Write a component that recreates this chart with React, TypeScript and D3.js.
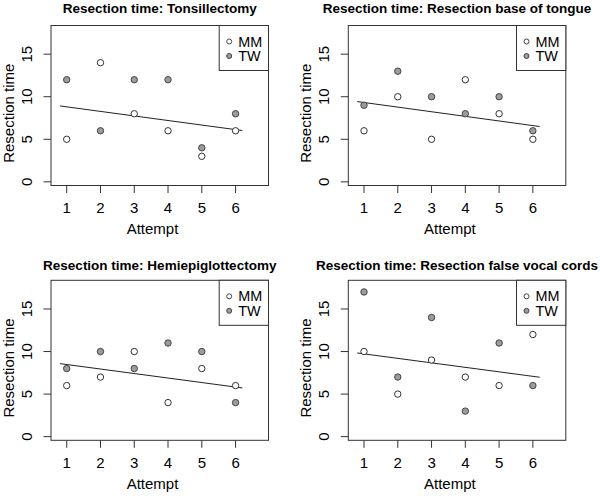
import React from "react";
import * as d3 from "d3";

const titles = [
  "Resection time: Tonsillectomy",
  "Resection time: Resection base of tongue",
  "Resection time: Hemiepiglottectomy",
  "Resection time: Resection false vocal cords",
];
const attempts = [1, 2, 3, 4, 5, 6];
const mmTimes = [
  [5, 14, 8, 6, 3, 6],
  [6, 10, 5, 12, 8, 5],
  [6, 7, 10, 4, 8, 6],
  [10, 5, 9, 7, 6, 12],
];
const twTimes = [
  [12, 6, 12, 12, 4, 8],
  [9, 13, 10, 8, 10, 6],
  [8, 10, 8, 11, 10, 4],
  [17, 7, 14, 3, 11, 6],
];
const fitX = [0.8, 6.2];
const fitStart = [8.92, 9.43, 8.58, 9.83];
const fitEnd = [6.03, 6.5, 5.72, 6.98];
const yTicks = [0, 5, 10, 15];
const seriesNames = ["MM", "TW"];

const colLefts = [51, 348.3];
const rowTops = [25.5, 280.3];
const boxW = 217.5;
const boxH = 160;
const titleOffsets = [-12.8, -10];
const FONT = "Liberation Sans, Arial, Helvetica, sans-serif";
const GREY = "#9c9c9c";

function Panel({ idx }: { idx: number }) {
  const col = idx % 2;
  const row = Math.floor(idx / 2);
  const left = colLefts[col];
  const top = rowTops[row];
  const right = left + boxW;
  const bottom = top + boxH;
  const x = d3.scaleLinear().domain([0.535, 6.975]).range([left, right]);
  const y = d3.scaleLinear().domain([-0.43, 18.37]).range([bottom, top]);
  const lineGen = d3
    .line<[number, number]>()
    .x((d) => x(d[0]))
    .y((d) => y(d[1]));
  const fitPts: [number, number][] = [
    [fitX[0], fitStart[idx]],
    [fitX[1], fitEnd[idx]],
  ];
  const legL = right - 49.3;
  const yLabX = left - 37.4;
  const yLabY = (top + bottom) / 2 + 7.7;
  return (
    <g>
      <text
        x={(left + right) / 2}
        y={top + titleOffsets[row]}
        textAnchor="middle"
        fontFamily={FONT}
        fontWeight="bold"
        fontSize={13.5}
        fill="#000"
      >
        {titles[idx]}
      </text>
      <rect x={left} y={top} width={boxW} height={boxH} fill="none" stroke="#333" strokeWidth={1} />
      {attempts.map((a) => (
        <g key={"xt" + a}>
          <line x1={x(a)} x2={x(a)} y1={bottom} y2={bottom + 7.5} stroke="#333" />
          <text x={x(a)} y={bottom + 27.3} textAnchor="middle" fontFamily={FONT} fontSize={15} fill="#000">
            {a}
          </text>
        </g>
      ))}
      {yTicks.map((t) => (
        <g key={"yt" + t}>
          <line x1={left - 7.5} x2={left} y1={y(t)} y2={y(t)} stroke="#333" />
          <text
            transform={`translate(${left - 19},${y(t)}) rotate(-90)`}
            textAnchor="middle"
            fontFamily={FONT}
            fontSize={15}
            fill="#000"
          >
            {t}
          </text>
        </g>
      ))}
      <text
        x={left + 101.5}
        y={bottom + 48.8}
        textAnchor="middle"
        fontFamily={FONT}
        fontSize={15}
        fill="#000"
      >
        Attempt
      </text>
      <text
        transform={`translate(${yLabX},${yLabY}) rotate(-90)`}
        textAnchor="middle"
        fontFamily={FONT}
        fontSize={15}
        fill="#000"
      >
        Resection time
      </text>
      <path d={lineGen(fitPts) || ""} fill="none" stroke="#222" strokeWidth={1} />
      {attempts.map((a, i) => (
        <circle key={"mm" + a} cx={x(a)} cy={y(mmTimes[idx][i])} r={3.2} fill="#fff" stroke="#333" strokeWidth={1} />
      ))}
      {attempts.map((a, i) => (
        <circle key={"tw" + a} cx={x(a)} cy={y(twTimes[idx][i])} r={3.2} fill={GREY} stroke="#444" strokeWidth={1} />
      ))}
      <rect x={legL} y={top} width={right - legL} height={45} fill="#fff" stroke="#333" strokeWidth={1} />
      {seriesNames.map((s, i) => (
        <g key={s}>
          <circle
            cx={legL + 10}
            cy={top + 16 + i * 14.5}
            r={2.5}
            fill={i === 0 ? "#fff" : GREY}
            stroke="#444"
            strokeWidth={1}
          />
          <text x={legL + 19} y={top + 16 + i * 14.5 + 5} fontFamily={FONT} fontSize={14.4} fill="#000">
            {s}
          </text>
        </g>
      ))}
    </g>
  );
}

export default function App() {
  return (
    <svg
      width={600}
      height={496}
      style={{ position: "absolute", left: 0, top: 0, background: "#fff" }}
    >
      <rect x={0} y={0} width={600} height={496} fill="#fff" />
      {[0, 1, 2, 3].map((i) => (
        <Panel key={i} idx={i} />
      ))}
    </svg>
  );
}
